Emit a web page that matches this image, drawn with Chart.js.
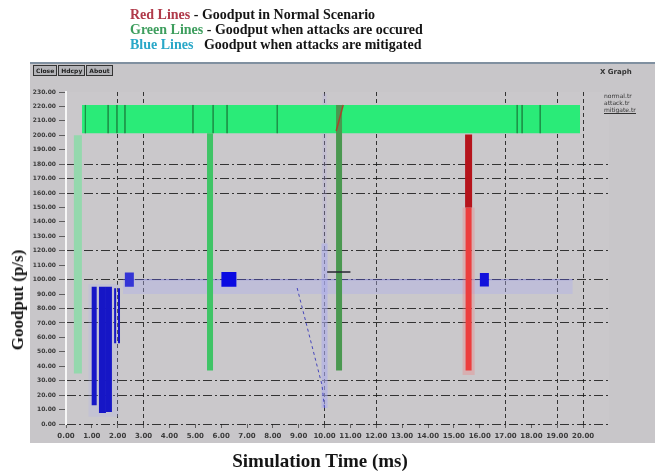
<!DOCTYPE html>
<html>
<head>
<meta charset="utf-8">
<script src="https://cdn.jsdelivr.net/npm/chart.js@4.4.1/dist/chart.umd.min.js"></script>
<style>
  body { margin: 0; background: #fff; }
  #wrap { position: relative; width: 655px; height: 476px; overflow: hidden; font-family: 'Liberation Serif', serif; }
  #chart { position: absolute; left: 0; top: 0; }
  .note { position: absolute; left: 130px; font-weight: bold; font-size: 14px; white-space: nowrap; color: #151515; }
  .axisTitle { position: absolute; font-weight: bold; color: #151515; white-space: nowrap; }
  #btns { position: absolute; left: 33px; top: 65px; font: bold 6px 'DejaVu Sans', sans-serif; }
  #btns span { display: inline-block; border: 1px solid #333; background: #b4b4b8; color: #222; padding: 1px 2px; margin-right: 1px; }
  #xg { position: absolute; left: 600px; top: 68px; font: bold 7px 'DejaVu Sans', sans-serif; color: #333; }
  #lg { position: absolute; left: 604px; top: 92px; font: 6px 'DejaVu Sans', sans-serif; color: #333; line-height: 7px; }
</style>
</head>
<body>
<div id="wrap">
  <canvas id="chart" width="655" height="476"></canvas>
  <div class="note" style="top:7px"><span style="color:#b03a4a">Red Lines</span> - Goodput in Normal Scenario</div>
  <div class="note" style="top:22px"><span style="color:#3e9e5e">Green Lines</span> - Goodput when attacks are occured</div>
  <div class="note" style="top:37px"><span style="color:#2aa8c8">Blue Lines</span>&nbsp;&nbsp; Goodput when attacks are mitigated</div>
  <div id="btns"><span>Close</span><span>Hdcpy</span><span>About</span></div>
  <div id="xg">X Graph</div>
  <div id="lg">normal.tr<br>attack.tr<br><span style="border-bottom:1px solid #333">mitigate.tr</span></div>
  <div class="axisTitle" style="left:18px; top:300px; font-size:17px; transform: translate(-50%, -50%) rotate(-90deg);">Goodput (p/s)</div>
  <div class="axisTitle" style="left:320px; top:450px; font-size:19px; transform: translateX(-50%);">Simulation Time (ms)</div>
</div>
<script>
// Axis ticks
const xTickValues = [0, 1, 2, 3, 4, 5, 6, 7, 8, 9, 10, 11, 12, 13, 14, 15, 16, 17, 18, 19, 20];
const xTickLabels = ['0.00', '1.00', '2.00', '3.00', '4.00', '5.00', '6.00', '7.00', '8.00', '9.00', '10.00',
    '11.00', '12.00', '13.00', '14.00', '15.00', '16.00', '17.00', '18.00', '19.00', '20.00'];
const yTickValues = [0, 10, 20, 30, 40, 50, 60, 70, 80, 90, 100, 110, 120, 130, 140, 150, 160, 170, 180, 190, 200, 210, 220, 230];
const yTickLabels = ['0.00', '10.00', '20.00', '30.00', '40.00', '50.00', '60.00', '70.00',
    '80.00', '90.00', '100.00', '110.00', '120.00', '130.00', '140.00', '150.00', '160.00',
    '170.00', '180.00', '190.00', '200.00', '210.00', '220.00', '230.00'];
const xGridAt = [2, 3, 10, 12, 17, 19, 20];
const yGridAt = [0, 20, 30, 70, 80, 100, 120, 160, 170, 180];

// Green: attack scenario (dense oscillation band + drop-outs)
const greenBandTime = [0.62, 19.88];
const greenBandTop = [221, 221];
const greenBandBottom = 201.5;
const greenFlickerTime = [0.75, 1.63, 1.97, 2.28, 4.91, 5.69, 6.23, 8.17, 17.45, 17.64, 18.34];
const greenDropTime = [0.46, 5.57, 10.56];
const greenDropHigh = [200, 201.5, 221];
const greenDropLow = [35, 37, 37];

// Red: normal scenario
const redSlantTime = [10.72, 10.45];
const redSlantValue = [221, 203];
const redDropTime = 15.57;
const redDropValue = [200.5, 150, 37];

// Blue: mitigated
const blueBurstTime = [1.09, 1.41, 1.66, 1.90, 2.05];
const blueBurstHigh = [95, 95, 95, 94, 94];
const blueBurstLow = [13, 7.6, 8.3, 56, 56];
const blueBlockTime = [2.45, 6.3, 16.18];
const blueBlockHigh = [105, 105.3, 104.6];
const blueBlockLow = [95, 95, 95.3];
const blueLevelTime = [2.2, 19.6];
const blueLevelValue = [100, 100];
const blueBandLow = 90;
const blueRampTime = [8.94, 9.9, 10.0];
const blueRampValue = [94.2, 27, 11];
const blueStripTime = 10.0;
const blueStripValue = [11, 125, 229];
const blueStepTime = [10.1, 11.0];
const blueStepValue = [105.3, 105.3];

// vertical segments separated by gaps
function segments(times, highs, lows) {
    const pts = [];
    times.forEach((t, i) => {
        pts.push({ x: t, y: highs[i] }, { x: t, y: lows[i] }, { x: t, y: null });
    });
    return pts;
}
function pairs(xs, ys) {
    return xs.map((x, i) => ({ x: x, y: ys[i] }));
}

const burstWidths = [5, 7, 6, 2, 2];
const blockWidths = [9, 15, 9];
const blockColors = ['#3434d6', '#0a0ae2', '#1212dc'];
const dropWidths = [8, 6, 6];
const dropColors = ['#94d8ad', '#3fc466', '#4a9850'];

const line = (extra) => Object.assign({
    type: 'line',
    pointRadius: 0,
    borderCapStyle: 'butt',
    spanGaps: false,
    fill: false,
    tension: 0
}, extra);

const datasets = [
    // lavender haze of the blue trace
    line({ data: pairs(blueLevelTime, blueLevelValue), borderWidth: 0, backgroundColor: 'rgba(176,176,236,0.4)', fill: { value: blueBandLow }, order: 30 }),
    line({ data: pairs(blueLevelTime, blueLevelValue), borderWidth: 1, borderColor: 'rgba(70,70,200,0.45)', order: 29 }),
    line({ data: segments([blueStripTime], [blueStripValue[1]], [blueStripValue[0]]), borderWidth: 6, borderColor: 'rgba(172,172,236,0.6)', order: 28 }),
    line({ data: segments([blueStripTime], [blueStripValue[2]], [blueStripValue[1]]), borderWidth: 4, borderColor: 'rgba(180,172,230,0.3)', order: 28 }),
    line({ data: segments([1.45], [97], [5]), borderWidth: 30, borderColor: 'rgba(176,176,236,0.25)', order: 27 }),
    // green band
    line({ data: pairs(greenBandTime, greenBandTop), borderWidth: 0, backgroundColor: '#2aeb78', fill: { value: greenBandBottom }, order: 20 }),
    line({ data: segments(greenFlickerTime, greenFlickerTime.map(() => greenBandTop[0]), greenFlickerTime.map(() => greenBandBottom)),
        borderWidth: 1, borderColor: 'rgba(30,140,70,0.8)', order: 19 }),
    ...greenDropTime.map((t, i) => line({
        data: segments([t], [greenDropHigh[i]], [greenDropLow[i]]),
        borderWidth: dropWidths[i], borderColor: dropColors[i], order: 15 + i
    })),
    // red
    line({ data: pairs(redSlantTime, redSlantValue), borderWidth: 1.5, borderColor: '#a8452c', order: 12 }),
    line({ data: segments([redDropTime], [redDropValue[1]], [redDropValue[2] - 3]), borderWidth: 12, borderColor: 'rgba(240,130,130,0.35)', order: 11 }),
    line({ data: segments([redDropTime], [redDropValue[1]], [redDropValue[2]]), borderWidth: 6, borderColor: '#ec3e3e', order: 10 }),
    line({ data: segments([redDropTime], [redDropValue[0]], [redDropValue[1]]), borderWidth: 7, borderColor: '#b5141c', order: 9 }),
    // blue
    ...blueBurstTime.map((t, i) => line({
        data: segments([t], [blueBurstHigh[i]], [blueBurstLow[i]]),
        borderWidth: burstWidths[i], borderColor: '#1616c6', order: 5
    })),
    ...blueBlockTime.map((t, i) => line({
        data: segments([t], [blueBlockHigh[i]], [blueBlockLow[i]]),
        borderWidth: blockWidths[i], borderColor: blockColors[i], order: 4
    })),
    line({ data: pairs(blueRampTime, blueRampValue), borderWidth: 1, borderColor: '#4646bc', borderDash: [3, 3], order: 3 }),
    line({ data: pairs(blueStepTime, blueStepValue), borderWidth: 1.5, borderColor: '#262630', order: 2 })
];

const panelPlugin = {
    id: 'panel',
    beforeDraw(chart) {
        const { ctx, chartArea } = chart;
        ctx.save();
        ctx.fillStyle = '#c8c6c9';
        ctx.fillRect(30, 62, 625, 381);
        ctx.fillStyle = '#8090a0';
        ctx.fillRect(30, 62, 625, 2);
        ctx.fillStyle = '#cac8cb';
        ctx.fillRect(chartArea.left, chartArea.top, chartArea.right - chartArea.left, chartArea.bottom - chartArea.top);
        ctx.restore();
    }
};

new Chart(document.getElementById('chart'), {
    type: 'line',
    data: { datasets: datasets },
    options: {
        responsive: false,
        animation: false,
        devicePixelRatio: 1,
        layout: { padding: { left: 30, top: 92, right: 46, bottom: 34 } },
        plugins: {
            legend: { display: false },
            tooltip: { enabled: false }
        },
        scales: {
            x: {
                type: 'linear',
                min: 0,
                max: 21,
                afterBuildTicks: scale => { scale.ticks = xTickValues.map(v => ({ value: v })); },
                afterFit: scale => { scale.height = 18; },
                ticks: {
                    autoSkip: false,
                    maxRotation: 0,
                    padding: 4,
                    color: '#3a3a3a',
                    font: { family: 'DejaVu Sans', size: 7, weight: 'bold' },
                    callback: (value, index) => xTickLabels[index]
                },
                grid: {
                    color: ctx => xGridAt.includes(ctx.tick.value) ? 'rgba(25,25,25,0.85)' : 'transparent',
                    tickColor: 'rgba(25,25,25,0.6)',
                    tickLength: 4,
                    lineWidth: 1
                },
                border: { display: false, dash: [4, 3] }
            },
            y: {
                type: 'linear',
                min: 0,
                max: 230,
                afterBuildTicks: scale => { scale.ticks = yTickValues.map(v => ({ value: v })); },
                afterFit: scale => { scale.width = 36; },
                ticks: {
                    autoSkip: false,
                    padding: 3,
                    color: '#3a3a3a',
                    font: { family: 'DejaVu Sans', size: 6, weight: 'bold' },
                    callback: (value, index) => yTickLabels[index]
                },
                grid: {
                    color: ctx => yGridAt.includes(ctx.tick.value) ? 'rgba(25,25,25,0.85)' : 'transparent',
                    tickColor: 'rgba(25,25,25,0.6)',
                    tickLength: 7,
                    lineWidth: 1
                },
                border: { display: true, color: '#f6f6f6', width: 2, dash: [9, 3, 2, 3] }
            }
        }
    },
    plugins: [panelPlugin]
});
</script>
</body>
</html>
